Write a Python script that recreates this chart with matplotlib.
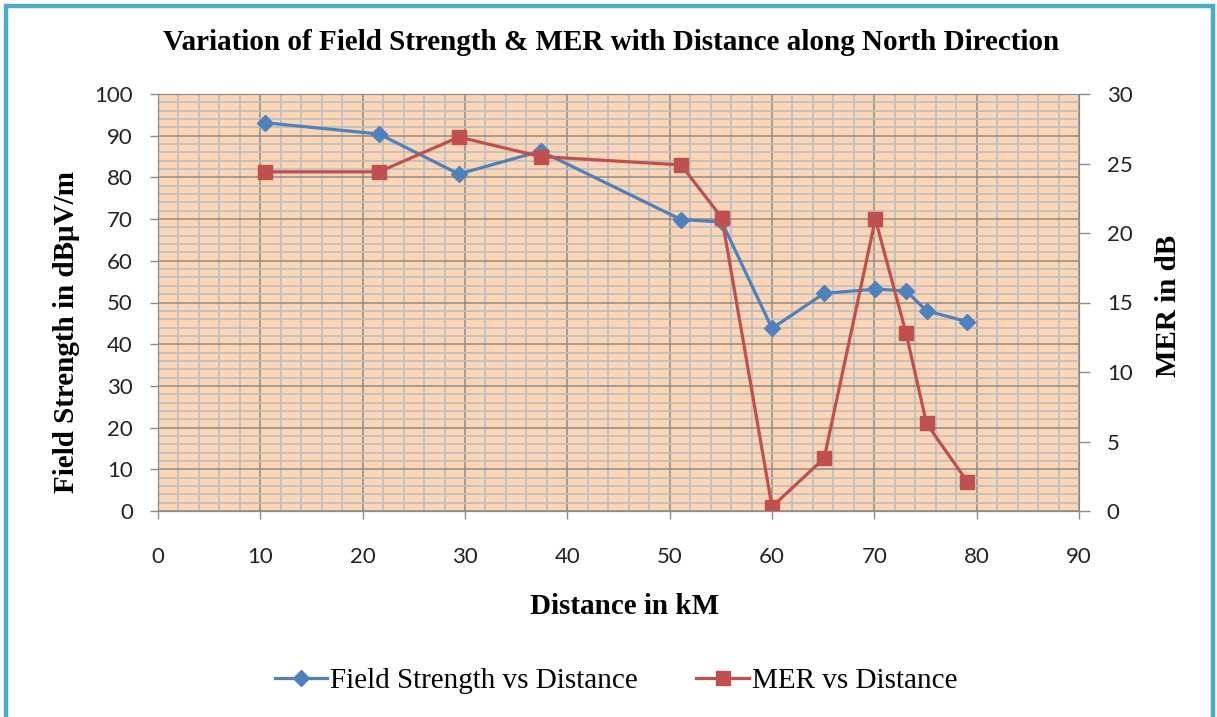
import matplotlib
matplotlib.use('Agg')
import matplotlib.pyplot as plt
from matplotlib.patches import Rectangle
from matplotlib.lines import Line2D
from matplotlib.ticker import MultipleLocator

# distance (km) and readings along north direction
distance = [10.5, 21.6, 29.4, 37.4, 51.1, 55.1, 60.0, 65.1, 70.1, 73.1, 75.1, 79.1]
field_strength = [93.1, 90.4, 80.8, 86.3, 69.9, 69.3, 43.8, 52.2, 53.2, 52.8, 48.0, 45.4]
mer = [24.4, 24.4, 26.9, 25.5, 24.9, 21.1, 0.3, 3.8, 21.0, 12.8, 6.3, 2.1]

BLUE = '#4F81BD'
RED = '#C0504D'
SERIF = 'Liberation Serif'
TICKFONT = 'Lato'
TS = 16

W, H = 1217, 717
fig = plt.figure(figsize=(W / 100, H / 100), dpi=100)

# outer chart border
fig.patches.append(Rectangle((6 / W, -0.05), (1213 - 6) / W, 1 - 6 / H + 0.05,
                             transform=fig.transFigure, fill=False,
                             edgecolor='#4BACC6', linewidth=3.2, clip_on=False))

ax = fig.add_axes([158 / W, 1 - 511 / H, (1079 - 158) / W, (511 - 94) / H])
ax.set_facecolor('#FCD5B5')
ax.set_xlim(0, 90)
ax.set_ylim(0, 100)
ax.xaxis.set_major_locator(MultipleLocator(10))
ax.xaxis.set_minor_locator(MultipleLocator(2))
ax.yaxis.set_major_locator(MultipleLocator(10))
ax.yaxis.set_minor_locator(MultipleLocator(2))
ax.set_axisbelow(True)
ax.grid(which='minor', color='#BFBFBF', linewidth=1.3)
ax.grid(which='major', color='#8C8C8C', linewidth=1.1)
ax.tick_params(which='minor', length=0)
ax.tick_params(which='major', length=6, width=1, color='#8C8C8C',
               labelsize=TS, colors='#222222')
ax.tick_params(axis='x', pad=20)
ax.tick_params(axis='y', pad=12)
for s in ax.spines.values():
    s.set_color('#8C8C8C')
for lab in ax.get_xticklabels() + ax.get_yticklabels():
    lab.set_fontfamily(TICKFONT)

ax.plot(distance, field_strength, color=BLUE, linewidth=2.3,
        marker='D', markersize=8, label='Field Strength vs Distance')

ax2 = ax.twinx()
ax2.set_ylim(0, 30)
ax2.yaxis.set_major_locator(MultipleLocator(5))
ax2.tick_params(which='major', length=8, width=1, color='#8C8C8C',
                labelsize=TS, colors='#222222', pad=12)
for s in ax2.spines.values():
    s.set_color('#8C8C8C')
for lab in ax2.get_yticklabels():
    lab.set_fontfamily(TICKFONT)
ax2.plot(distance, mer, color=RED, linewidth=2.3,
         marker='s', markersize=10, label='MER vs Distance')

fig.text(611 / W, 1 - 42 / H,
         'Variation of Field Strength & MER with Distance along North Direction',
         ha='center', va='center', fontsize=21, fontweight='bold', family=SERIF)
fig.text(67 / W, 1 - 332 / H, 'Field Strength in dBμV/m', rotation=90,
         ha='center', va='center', fontsize=21, fontweight='bold', family=SERIF)
fig.text(1169 / W, 1 - 306 / H, 'MER in dB', rotation=90,
         ha='center', va='center', fontsize=21, fontweight='bold', family=SERIF)
fig.text(625 / W, 1 - 606 / H, 'Distance in kM',
         ha='center', va='center', fontsize=21, fontweight='bold', family=SERIF)

handles = [Line2D([], [], color=BLUE, linewidth=2.3, marker='D', markersize=8),
           Line2D([], [], color=RED, linewidth=2.3, marker='s', markersize=10)]
fig.legend(handles, ['Field Strength vs Distance', 'MER vs Distance'],
           loc='center', bbox_to_anchor=(616 / W, 1 - 681 / H), ncol=2,
           frameon=False, prop={'family': SERIF, 'size': 21},
           handlelength=1.8, handletextpad=0.1, columnspacing=2.0)

fig.savefig('out.png', dpi=100)
